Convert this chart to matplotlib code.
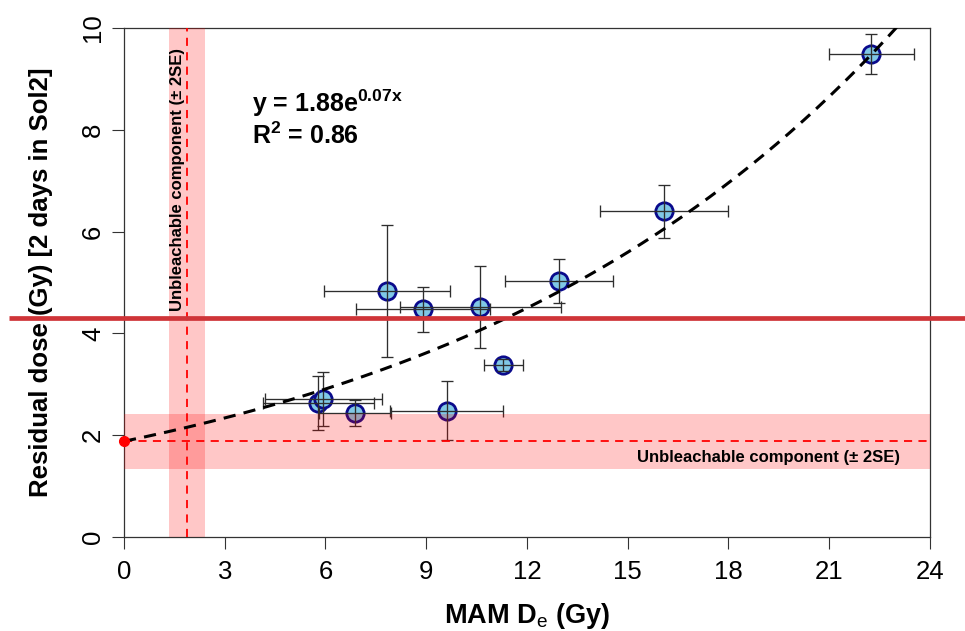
import numpy as np
import matplotlib
matplotlib.use("Agg")
import matplotlib.pyplot as plt
from matplotlib.transforms import blended_transform_factory

plt.rcParams["font.family"] = ["Liberation Sans", "DejaVu Sans"]
plt.rcParams["mathtext.fontset"] = "custom"
plt.rcParams["mathtext.rm"] = "Liberation Sans"
plt.rcParams["mathtext.bf"] = "Liberation Sans:bold"

# MAM De vs residual dose (2 days in Sol2)
mam_de = [5.79, 5.94, 6.88, 9.61, 7.84, 8.90, 10.61, 11.29, 12.95, 16.08, 22.25]
mam_err = [1.66, 1.73, 1.07, 1.69, 1.88, 1.99, 2.40, 0.58, 1.60, 1.90, 1.26]
residual = [2.64, 2.71, 2.44, 2.48, 4.83, 4.47, 4.52, 3.38, 5.03, 6.40, 9.49]
residual_err = [0.53, 0.53, 0.25, 0.58, 1.30, 0.45, 0.80, 0.12, 0.44, 0.52, 0.39]

# exponential fit y = a*exp(b*x), label shows rounded values
fit_a, fit_b = 1.88, 0.0727
fit_label = r"y = 1.88e$^{\mathbf{0.07x}}$"
r2_label = r"R$^{\mathbf{2}}$ = 0.86"

# unbleachable component (± 2SE)
unbleach, unbleach_2se = 1.88, 0.54
ref_line = 4.30

x_ticks = [0, 3, 6, 9, 12, 15, 18, 21, 24]
y_ticks = [0, 2, 4, 6, 8, 10]

fig = plt.figure(figsize=(9.65, 6.31), dpi=100)
ax = fig.add_axes([0.1285, 0.149, 0.8352, 0.8066])
ax.set_xlim(0, 24)
ax.set_ylim(0, 10)

ax.errorbar(mam_de, residual, xerr=mam_err, yerr=residual_err, fmt="none",
            ecolor="#2e2e2e", elinewidth=0.95, capsize=4.3, capthick=0.95, zorder=4)
ax.plot(mam_de, residual, "o", ms=12.5, mfc="#80c8e6", mec="#0a0a8c", mew=2.0, zorder=3)

# bands drawn over the points, like the original
ax.axhspan(unbleach - unbleach_2se, unbleach + unbleach_2se, color="red", alpha=0.22, lw=0, zorder=5)
ax.axvspan(unbleach - unbleach_2se, unbleach + unbleach_2se, color="red", alpha=0.22, lw=0, zorder=5)
ax.plot([0, 24], [unbleach, unbleach], color="red", lw=1.3, ls=(0, (4.5, 3.5)), zorder=6)
ax.plot([unbleach, unbleach], [0, 10], color="red", lw=1.3, ls=(0, (4.5, 3.5)), zorder=6)
ax.plot([0], [unbleach], "o", color="red", ms=7, clip_on=False, zorder=8)

xf = np.linspace(0, 24, 300)
ax.plot(xf, fit_a * np.exp(fit_b * xf), color="black", lw=2.2, ls=(0, (4, 2.7)), zorder=7)

ax.text(23.1, 1.57, "Unbleachable component (± 2SE)", fontsize=12, fontweight="bold",
        ha="right", va="center", zorder=9)
ax.text(1.58, 9.6, "Unbleachable component (± 2SE)", fontsize=12, fontweight="bold",
        rotation=90, ha="center", va="top", zorder=9)
ax.text(3.81, 8.52, fit_label, fontsize=18, fontweight="bold", ha="left", va="center", zorder=9)
ax.text(3.81, 7.88, r2_label, fontsize=18, fontweight="bold", ha="left", va="center", zorder=9)

# horizontal red marker line across the whole figure
tr = blended_transform_factory(fig.transFigure, ax.transData)
ax.plot([0.009, 1.0], [ref_line, ref_line], color="#cf3438", lw=3.4, transform=tr,
        clip_on=False, zorder=10, solid_capstyle="butt")

ax.set_xticks(x_ticks)
ax.set_yticks(y_ticks)
ax.tick_params(direction="out", length=8.6, width=0.8, color="#333333", labelsize=18.5)
ax.tick_params(axis="x", pad=8)
ax.tick_params(axis="y", pad=5)
for lab in ax.get_yticklabels():
    lab.set_rotation(90)
    lab.set_va("center")
for sp in ax.spines.values():
    sp.set_linewidth(0.9)
    sp.set_color("#333333")

ax.set_xlabel(r"MAM D$_{\mathrm{e}}$ (Gy)", fontsize=19.5, fontweight="bold")
ax.set_ylabel("Residual dose (Gy) [2 days in Sol2]", fontsize=18.5, fontweight="bold")
ax.xaxis.set_label_coords(0.5, -0.125)
ax.yaxis.set_label_coords(-0.088, 0.5)

fig.savefig("out.png", dpi=100)
